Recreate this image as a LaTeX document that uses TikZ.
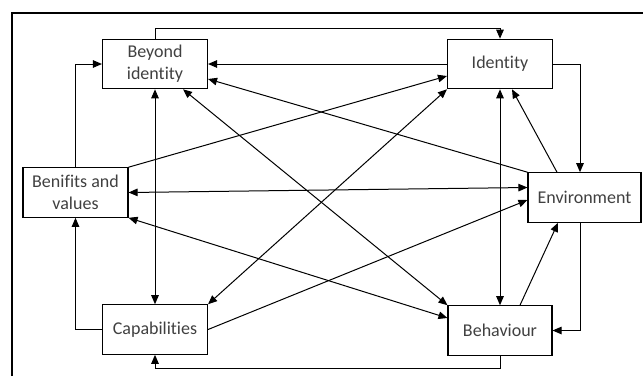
\documentclass[tikz,border=0pt]{standalone}
\usepackage{fontspec}
\setmainfont[Ligatures=NoCommon]{Carlito}
\usetikzlibrary{arrows.meta}
\begin{document}
\begin{tikzpicture}[x=1pt,y=-1pt,
  box/.style={draw=black,line width=1.1pt,rectangle,inner sep=0pt,minimum width=105pt,minimum height=49.5pt,
    align=center,text=black!75,font=\fontsize{18}{22}\selectfont},
  conn/.style={line width=1pt,draw=black},
  tip/.style={-{Triangle[length=9pt,width=7.5pt]}},
  both/.style={{Triangle[length=9pt,width=7.5pt]}-{Triangle[length=9pt,width=7.5pt]}}]
\useasboundingbox (0,0) rectangle (643,376);
\draw[line width=1.2pt] (12,376) -- (12,13) -- (643,13);
\node[box] (beyond) at (155,64) {Beyond\\identity};
\node[box] (identity) at (500,64) {Identity};
\node[box] (benefits) at (75.5,192.5) {Benifits and\\values};
\node[box,minimum width=113pt] (environment) at (584.5,197.5) {Environment};
\node[box] (capabilities) at (155,329.5) {Capabilities};
\node[box,minimum width=104pt] (behaviour) at (500,330.5) {Behaviour};
\draw[conn,tip] (beyond.north) -- (beyond.north |- 0,28) -- (identity.north |- 0,28) -- (identity.north);
\draw[conn,tip] (identity.west) -- (beyond.east);
\draw[conn,tip] (benefits.north) |- (beyond.west);
\draw[conn,both] (beyond.south) -- (capabilities.north);
\draw[conn,tip] (environment.north west) -- ([yshift=-15pt]beyond.east);
\draw[conn,both] ([xshift=28pt]beyond.south) -- (behaviour.north west);
\draw[conn,both] (benefits.east) -- ([yshift=10pt]environment.west);
\draw[conn,tip] (benefits.north east) -- ([yshift=-12pt]identity.west);
\draw[conn,both] (capabilities.north east) -- (identity.south west);
\draw[conn,tip] (capabilities.east) -- ([yshift=-2.5pt]environment.west);
\draw[conn,both] (benefits.south east) -- ([yshift=12.5pt]behaviour.west);
\draw[conn,both] (identity.south) -- (behaviour.north);
\draw[conn,tip] ([xshift=-27.5pt]environment.north) -- ([xshift=12pt]identity.south);
\draw[conn,tip] (identity.east) -| ([xshift=-4.5pt]environment.north);
\draw[conn,tip] ([xshift=-4.5pt]environment.south) |- (behaviour.east);
\draw[conn,tip] ([xshift=20pt]behaviour.north) -- ([xshift=-26.5pt]environment.south);
\draw[conn,tip] (behaviour.south) -- (behaviour.south |- 0,368) -| (capabilities.south);
\draw[conn,tip] (capabilities.west) -| (benefits.south);
\end{tikzpicture}
\end{document}
